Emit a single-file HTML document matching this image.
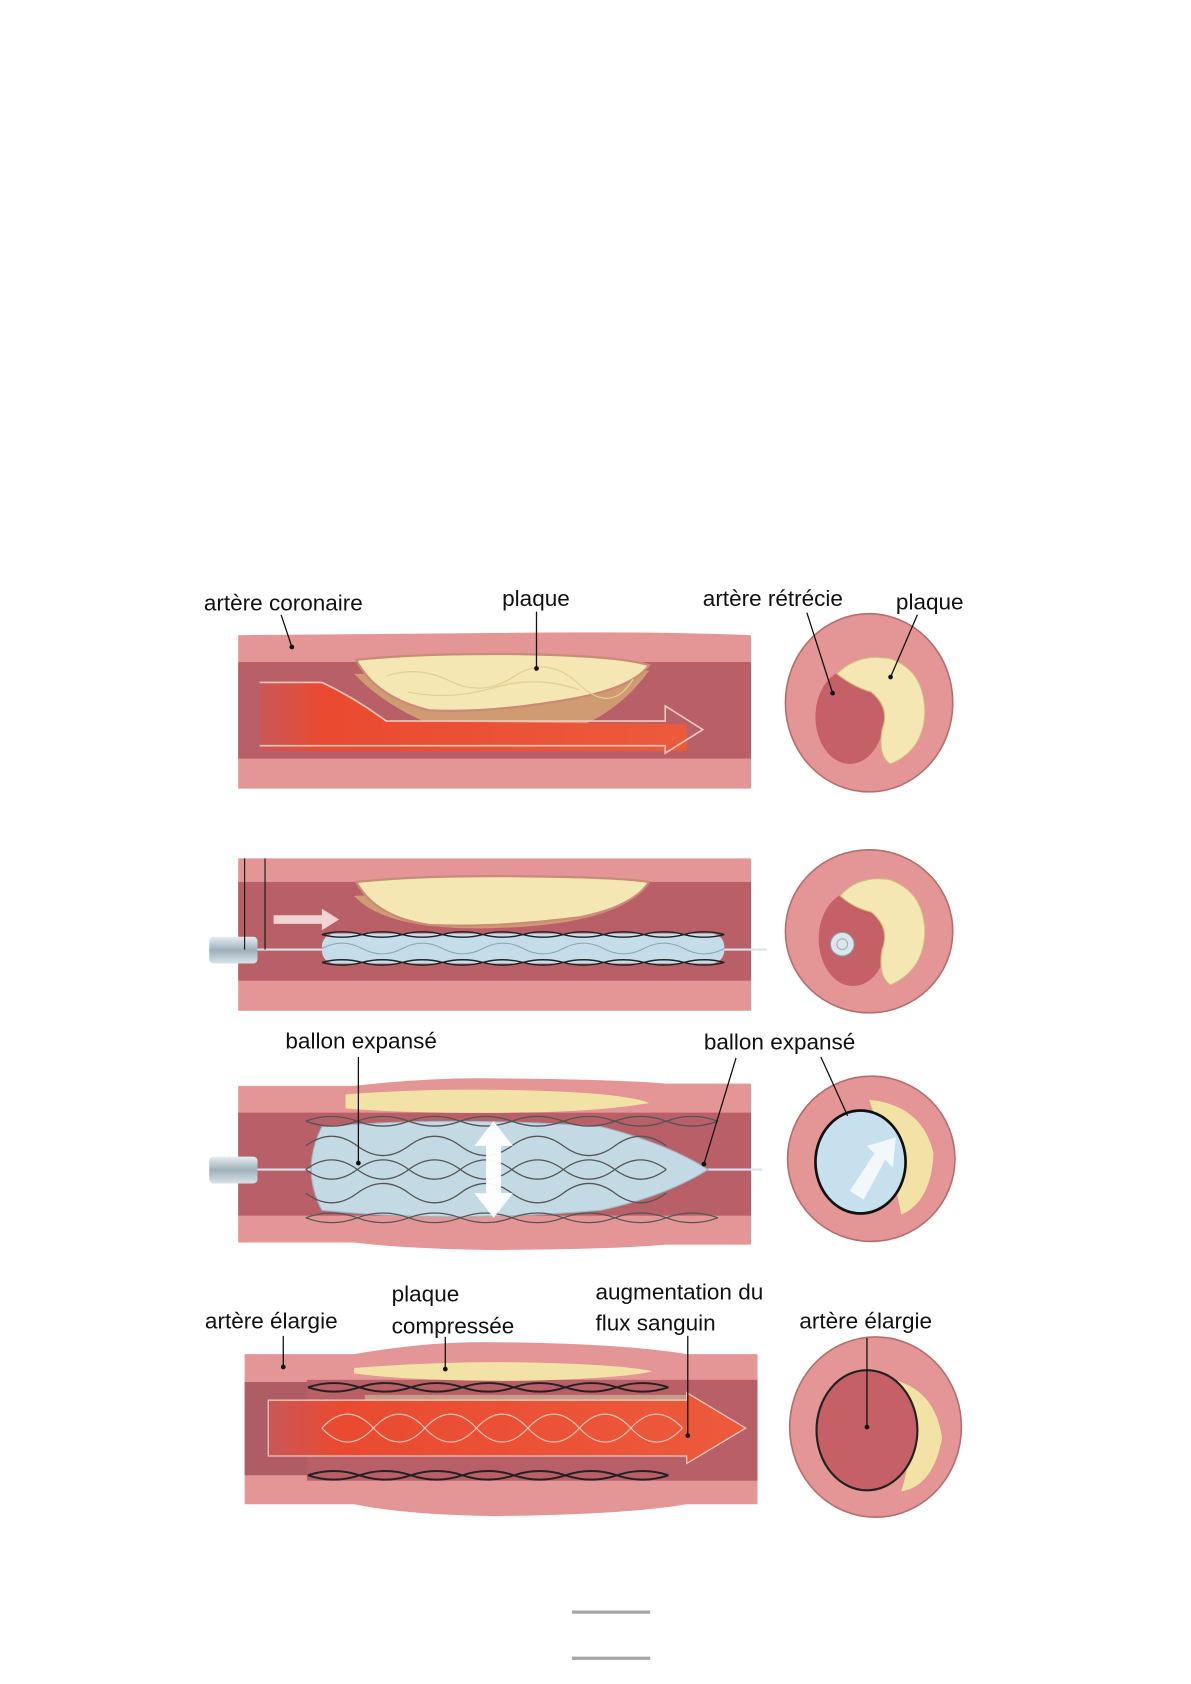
<!DOCTYPE html>
<html><head><meta charset="utf-8"><style>
html,body{margin:0;padding:0;background:#fff;}
svg{display:block;}
text{font-family:"Liberation Sans Narrow","Liberation Sans",sans-serif;font-size:21px;fill:#111;}
</style></head><body>
<svg width="1191" height="1684" viewBox="0 0 1110 1569.5" xmlns="http://www.w3.org/2000/svg">
<defs>
<linearGradient id="red" x1="0" x2="1"><stop offset="0" stop-color="#c9575a"/><stop offset="0.15" stop-color="#ea4a30"/><stop offset="1" stop-color="#ec5a3c"/></linearGradient>
<linearGradient id="cath" x1="0" y1="0" x2="0" y2="1"><stop offset="0" stop-color="#e6eef2"/><stop offset="0.5" stop-color="#9fb0bb"/><stop offset="1" stop-color="#d8e2e8"/></linearGradient>
</defs>

<!-- PANEL 1 -->
<path d="M222,592 L460,590 Q600,588 700,592 L700,735 L222,735 Z" fill="#e49595"/>
<rect x="222" y="617" width="478" height="90" fill="#b85f67"/>
<path d="M330,628 Q380,680 470,692 Q560,688 605,625 Z" fill="#d09a72"/>
<path d="M242,636 L300,636 Q330,650 360,672 L640,675 L640,700 L242,700 Z" fill="url(#red)"/>
<path d="M242,636 L300,636 Q330,650 360,672 L620,672 L620,658 L655,680 L620,702 L620,695 L242,695" fill="none" stroke="#f5c9b8" stroke-width="1.5"/>
<path d="M332,615 Q400,608 500,610 Q580,612 605,620 Q590,640 540,650 Q460,665 400,662 Q350,650 332,615 Z" fill="#f4e7b4" stroke="#c98a78" stroke-width="2"/>
<path d="M360,630 q30,-10 60,5 t60,-5 t60,8 t50,-5 M380,645 q40,8 80,-4 t80,2" fill="none" stroke="#e3cf95" stroke-width="1.2"/>
<ellipse cx="810" cy="655" rx="78" ry="83" fill="#e49595" stroke="#b56e6e" stroke-width="1.5"/>
<ellipse cx="792" cy="668" rx="32" ry="44" fill="#c66067"/>
<path d="M780,628 Q800,608 830,614 Q862,625 862,665 Q860,700 830,712 Q818,705 822,680 Q830,660 812,645 Q795,640 780,628 Z" fill="#f4e7b4" stroke="#d6b980" stroke-width="1"/>
<text x="190" y="569">artère coronaire</text>
<text x="468" y="565">plaque</text>
<text x="655" y="565">artère rétrécie</text>
<text x="835" y="568">plaque</text>
<path d="M262,573 L272,603 M500,570 L500,623 M752,571 L776,646 M855,573 L830,631" stroke="#111" stroke-width="1.2" fill="none"/>
<g fill="#111"><circle cx="272" cy="603" r="2.2"/><circle cx="500" cy="623" r="2.2"/><circle cx="776" cy="646" r="2.2"/><circle cx="830" cy="631" r="2.2"/></g>

<!-- PANEL 2 -->
<path d="M222,800 L700,800 L700,942 L222,942 Z" fill="#e49595"/>
<rect x="222" y="822" width="478" height="92" fill="#b85f67"/>
<path d="M330,835 Q360,868 460,865 Q580,862 605,822 L600,822 Z" fill="#d09a72"/>
<path d="M332,822 Q400,815 500,817 Q580,818 605,822 Q590,845 540,855 Q460,865 400,862 Q350,855 332,822 Z" fill="#f4e7b4" stroke="#c98a78" stroke-width="2"/>
<path d="M255,853 L300,853 L300,847 L316,857 L300,867 L300,861 L255,861 Z" fill="#f1d4d2"/>
<rect x="195" y="873" width="45" height="25" rx="4" fill="url(#cath)"/>
<line x1="240" y1="885" x2="715" y2="885" stroke="#d8e2e8" stroke-width="2"/>
<rect x="300" y="870" width="375" height="28" rx="12" fill="#c4dde8"/>
<g fill="none" stroke="#222" stroke-width="1.3">
<path d="M300,871 q18.75,-5 37.5,0 t37.5,0 t37.5,0 t37.5,0 t37.5,0 t37.5,0 t37.5,0 t37.5,0 t37.5,0 t37.5,0"/>
<path d="M300,871 q18.75,5 37.5,0 t37.5,0 t37.5,0 t37.5,0 t37.5,0 t37.5,0 t37.5,0 t37.5,0 t37.5,0 t37.5,0"/>
<path d="M300,897 q18.75,-5 37.5,0 t37.5,0 t37.5,0 t37.5,0 t37.5,0 t37.5,0 t37.5,0 t37.5,0 t37.5,0 t37.5,0"/>
<path d="M300,897 q18.75,5 37.5,0 t37.5,0 t37.5,0 t37.5,0 t37.5,0 t37.5,0 t37.5,0 t37.5,0 t37.5,0 t37.5,0"/>
</g>
<g fill="none" stroke="#8aa6b5" stroke-width="1">
<path d="M300,884 q18.75,-10 37.5,0 t37.5,0 t37.5,0 t37.5,0 t37.5,0 t37.5,0 t37.5,0 t37.5,0 t37.5,0 t37.5,0"/>
</g>
<path d="M228,800 L228,885 M247,800 L247,885" stroke="#111" stroke-width="1"/>
<ellipse cx="810" cy="868" rx="78" ry="76" fill="#e49595" stroke="#b56e6e" stroke-width="1.5"/>
<ellipse cx="795" cy="875" rx="32" ry="44" fill="#c66067"/>
<path d="M783,835 Q800,815 830,820 Q862,832 862,870 Q860,905 830,918 Q818,910 822,885 Q830,865 812,850 Q795,846 783,835 Z" fill="#f4e7b4" stroke="#d6b980" stroke-width="1"/>
<circle cx="785" cy="880" r="11" fill="#dbe6ec" stroke="#8a9aa4"/><circle cx="785" cy="880" r="5" fill="none" stroke="#9fb0bb"/>

<!-- PANEL 3 -->
<path d="M222,1012 L330,1012 Q400,1004 460,1005 Q580,1006 620,1010 L700,1010 L700,1160 L620,1160 Q580,1164 460,1165 Q380,1164 330,1158 L222,1158 Z" fill="#e49595"/>
<rect x="222" y="1037" width="478" height="96" fill="#b85f67"/>
<path d="M322,1020 Q400,1014 480,1016 Q580,1018 605,1028 Q560,1036 480,1037 Q380,1038 322,1033 Z" fill="#f3e2a6"/>
<rect x="195" y="1078" width="45" height="25" rx="4" fill="url(#cath)"/>
<line x1="240" y1="1090" x2="710" y2="1090" stroke="#d8e2e8" stroke-width="2"/>
<path d="M300,1050 Q420,1040 560,1050 Q620,1065 660,1090 Q620,1115 560,1128 Q420,1140 300,1128 Q280,1090 300,1050 Z" fill="#c3d9e3" stroke="#9cb6c3"/>
<g fill="none" stroke="#555" stroke-width="1.2">
<path d="M285,1045 q24,-9 48,0 t48,0 t48,0 t48,0 t48,0 t48,0 t48,0 t48,0"/>
<path d="M285,1045 q24,9 48,0 t48,0 t48,0 t48,0 t48,0 t48,0 t48,0 t48,0"/>
<path d="M285,1068 q24,-18 48,0 t48,0 t48,0 t48,0 t48,0 t48,0 t48,0"/>
<path d="M285,1090 q24,-18 48,0 t48,0 t48,0 t48,0 t48,0 t48,0 t48,0"/>
<path d="M285,1090 q24,18 48,0 t48,0 t48,0 t48,0 t48,0 t48,0 t48,0"/>
<path d="M285,1112 q24,18 48,0 t48,0 t48,0 t48,0 t48,0 t48,0 t48,0"/>
<path d="M285,1135 q24,-9 48,0 t48,0 t48,0 t48,0 t48,0 t48,0 t48,0 t48,0"/>
<path d="M285,1135 q24,9 48,0 t48,0 t48,0 t48,0 t48,0 t48,0 t48,0 t48,0"/>
</g>
<path d="M460,1045 L478,1068 L467,1068 L467,1112 L478,1112 L460,1135 L442,1112 L453,1112 L453,1068 L442,1068 Z" fill="#fff" opacity="0.95"/>
<ellipse cx="812" cy="1080" rx="78" ry="77" fill="#e49595" stroke="#b56e6e" stroke-width="1.5"/>
<path d="M810,1025 Q860,1030 870,1075 Q868,1120 840,1132 Q830,1080 810,1025 Z" fill="#f3e2a6"/>
<ellipse cx="802" cy="1083" rx="42" ry="48" fill="#c6e0ee" stroke="#111" stroke-width="2.5"/>
<path d="M792,1110 L815,1075 L808,1068 L835,1060 L832,1088 L825,1081 L805,1118 Z" fill="#f2f7fa"/>
<text x="266" y="977">ballon expansé</text>
<text x="656" y="978">ballon expansé</text>
<path d="M334,985 L334,1084 M686,986 L656,1085 M765,985 L790,1040" stroke="#111" stroke-width="1.2" fill="none"/>
<g fill="#111"><circle cx="334" cy="1084" r="2.2"/><circle cx="656" cy="1085" r="2.2"/></g>

<!-- PANEL 4 -->
<path d="M228,1262 L330,1262 Q400,1250 460,1251 Q580,1252 640,1262 L706,1262 L706,1402 L640,1402 Q580,1412 460,1413 Q380,1412 330,1402 L228,1402 Z" fill="#e49595"/>
<path d="M228,1288 L290,1288 L290,1375 L228,1375 Z" fill="#b05c64"/>
<rect x="286" y="1286" width="420" height="94" fill="#b85f67"/>
<path d="M340,1300 L640,1300 L640,1312 L340,1312 Z" fill="#c99a86"/>
<path d="M330,1275 Q420,1268 500,1270 Q580,1272 608,1278 Q580,1285 480,1287 Q380,1287 330,1280 Z" fill="#f3e2a6"/>
<path d="M250,1305 L640,1305 L640,1298 L695,1331 L640,1364 L640,1357 L250,1357 Z" fill="url(#red)" stroke="#f5c9b8" stroke-width="1.2"/>
<g fill="none" stroke="#222" stroke-width="1.8">
<path d="M287,1293 q24,-8 48,0 t48,0 t48,0 t48,0 t48,0 t48,0 t48,0"/>
<path d="M287,1293 q24,8 48,0 t48,0 t48,0 t48,0 t48,0 t48,0 t48,0"/>
<path d="M287,1375 q24,-8 48,0 t48,0 t48,0 t48,0 t48,0 t48,0 t48,0"/>
<path d="M287,1375 q24,8 48,0 t48,0 t48,0 t48,0 t48,0 t48,0 t48,0"/>
</g>
<g fill="none" stroke="#f2c2b6" stroke-width="1.1">
<path d="M300,1331 q24,-26 48,0 t48,0 t48,0 t48,0 t48,0 t48,0 t48,0"/>
<path d="M300,1331 q24,26 48,0 t48,0 t48,0 t48,0 t48,0 t48,0 t48,0"/>
</g>
<ellipse cx="816" cy="1330" rx="80" ry="84" fill="#e49595" stroke="#b56e6e" stroke-width="1.5"/>
<path d="M812,1283 Q870,1285 878,1340 Q870,1385 840,1390 Q860,1330 812,1283 Z" fill="#f3e2a6"/>
<ellipse cx="808" cy="1333" rx="47" ry="56" fill="#c66067" stroke="#222" stroke-width="2"/>
<text x="191" y="1238">artère élargie</text>
<text x="365" y="1213">plaque</text>
<text x="365" y="1243">compressée</text>
<text x="555" y="1211">augmentation du</text>
<text x="555" y="1240">flux sanguin</text>
<text x="745" y="1238">artère élargie</text>
<path d="M264,1245 L264,1274 M415,1246 L415,1276 M641,1245 L641,1338 M808,1247 L808,1330" stroke="#111" stroke-width="1.2" fill="none"/>
<g fill="#111"><circle cx="264" cy="1274" r="2.2"/><circle cx="415" cy="1276" r="2.2"/><circle cx="641" cy="1338" r="2.2"/><circle cx="808" cy="1330" r="2.2"/></g>

<rect x="533" y="1501" width="73" height="3" fill="#a6a6a6"/>
<rect x="533" y="1544" width="73" height="3" fill="#a6a6a6"/>
</svg>
</body></html>
